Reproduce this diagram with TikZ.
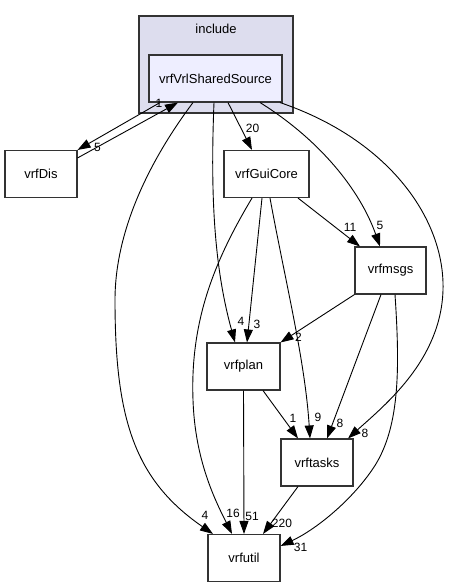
\documentclass[tikz,border=0pt]{standalone}
\usepackage{fontspec}
\setmainfont{Liberation Sans}
\usetikzlibrary{arrows.meta,positioning}
\definecolor{clusterfill}{RGB}{221,221,238}
\definecolor{srcfill}{RGB}{238,238,255}

\begin{document}
\begin{tikzpicture}[%
x=1pt, y=-1pt,
>={Triangle[length=13pt,width=9pt]},
dir/.style={draw=black!80, line width=1.1pt, fill=white, minimum width=#1,
  minimum height=47pt, inner sep=0pt, font=\fontsize{13}{15}\selectfont},
dir/.default=72pt,
lbl/.style={font=\fontsize{12}{14}\selectfont, inner sep=0pt},
dep/.style={->, line width=0.9pt},
every edge/.append style={line width=0.9pt}
]
\useasboundingbox (0,0) rectangle (450,588);

% cluster
\node[draw=black!80, line width=1.1pt, fill=clusterfill, minimum width=154pt,
  minimum height=97pt] (include) at (216,64.5) {};
\node[font=\fontsize{13}{15}\selectfont] (includename) at (216,29) {include};

\node[dir=133pt, fill=srcfill] (src) at (215.5,78.5) {vrfVrlSharedSource};
\node[dir] (dis) at (41,174) {vrfDis};
\node[dir=85pt] (gui) at (266.5,174) {vrfGuiCore};
\node[dir=71pt] (msgs) at (390.5,270.5) {vrfmsgs};
\node[dir=73pt] (plan) at (243.5,366.5) {vrfplan};
\node[dir] (tasks) at (317,462.5) {vrftasks};
\node[dir] (util) at (244,558) {vrfutil};

% vrfVrlSharedSource <-> vrfDis
\path[->] ([xshift=-55.5pt]src.south) edge node[lbl, at end, xshift=20pt, yshift=3pt] {5}
         (dis.north east);
\path[->] ([yshift=-8pt]dis.north east) edge node[lbl, at end, xshift=-19pt, yshift=-1pt] {1}
         ([xshift=-37.5pt]src.south);

% from vrfVrlSharedSource
\path[->] ([xshift=12.5pt]src.south) edge node[lbl, at end, xshift=0.5pt, yshift=21.5pt] {20}
         ([xshift=-14.5pt]gui.north);
\draw[dep] ([xshift=-22.5pt]src.south) .. controls (150,160) and (115,230) .. (115,300)
  .. controls (115,420) and (135,480) .. ([xshift=-31pt]util.north)
  node[lbl, xshift=-8pt, yshift=19pt] {4};
\draw[dep] ([xshift=-1.5pt]src.south) .. controls (210,200) and (215,270) .. ([xshift=-8.5pt]plan.north)
  node[lbl, xshift=6pt, yshift=21pt] {4};
\draw[dep] ([xshift=44.5pt]src.south) .. controls (320,140) and (360,190) .. ([xshift=-10.5pt]msgs.north)
  node[lbl, yshift=21pt] {5};
\draw[dep] ([xshift=64.5pt]src.south) .. controls (390,140) and (445,220) .. (443,290)
  .. controls (441,360) and (385,405) .. ([xshift=31pt]tasks.north)
  node[lbl, xshift=17pt, yshift=5pt] {8};

% from vrfGuiCore
\path[->] ([xshift=31.5pt]gui.south) edge node[lbl, at end, xshift=-10pt, yshift=19pt] {11}
         ([xshift=-30.5pt]msgs.north);
\path[->] ([xshift=-4.5pt]gui.south) edge node[lbl, at end, xshift=10pt, yshift=18pt] {3}
         ([xshift=3.5pt]plan.north);
\draw[dep] ([xshift=3.5pt]gui.south) .. controls (285,280) and (305,360) .. ([xshift=-7pt]tasks.north)
  node[lbl, xshift=8pt, yshift=21pt] {9};
\draw[dep] ([xshift=-14.5pt]gui.south) .. controls (215,260) and (190,320) .. (193,400)
  .. controls (195,460) and (215,500) .. ([xshift=-12pt]util.north)
  node[lbl, xshift=1pt, yshift=21pt] {16};

% from vrfmsgs
\path[->] (msgs.south west) edge node[lbl, at end, xshift=18pt, yshift=5pt] {2}
         (plan.north east);
\path[->] ([xshift=-9.5pt]msgs.south) edge node[lbl, at end, xshift=13pt, yshift=15pt] {8}
         ([xshift=10pt]tasks.north);
\draw[dep] ([xshift=4.5pt]msgs.south) .. controls (400,370) and (400,430) .. (372,470)
  .. controls (350,502) and (315,530) .. ([yshift=-12pt]util.north east)
  node[lbl, xshift=20pt, yshift=-1pt] {31};

% from vrfplan and vrftasks
\path[->] ([xshift=19.5pt]plan.south) edge node[lbl, at end, xshift=-5pt, yshift=20pt] {1}
         ([xshift=-19pt]tasks.north);
\path[->] (plan.south) edge node[lbl, at end, xshift=8pt, yshift=18pt] {51}
         (util.north);
\path[->] ([xshift=-19pt]tasks.south) edge node[lbl, at end, xshift=19pt, yshift=11pt] {220}
         ([xshift=19pt]util.north);
\end{tikzpicture}
\end{document}
